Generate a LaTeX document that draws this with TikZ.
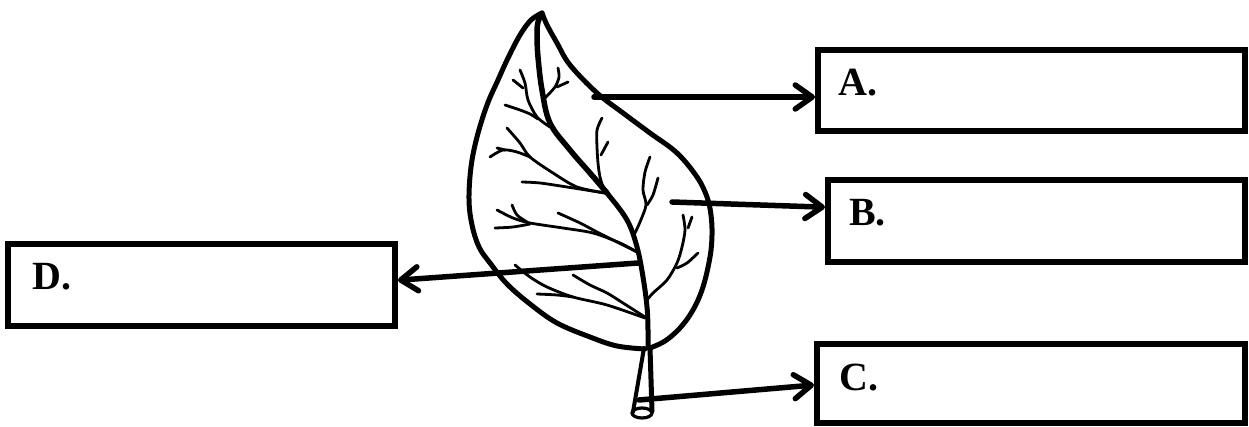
\documentclass[tikz,border=0pt]{standalone}
\usepackage{fontspec}
\setmainfont{Liberation Serif}
\usetikzlibrary{arrows.meta}
\begin{document}
\begin{tikzpicture}[x=1pt,y=-1pt,
  box/.style={draw,line width=6pt,rectangle,inner sep=0pt},
  lab/.style={font=\fontsize{40}{44}\selectfont\bfseries,anchor=base west,inner sep=0pt},
  leafline/.style={line width=5pt,line join=round,line cap=round},
  vein/.style={line width=2.8pt,line cap=round,line join=round},
  arr/.style={line width=5.5pt,line cap=round,-{Straight Barb[length=17pt,width=24pt,round]}}]
\useasboundingbox (0,0) rectangle (1249,427);
% boxes
\node[box,minimum width=427pt,minimum height=81pt] (boxA) at (1031.5,90.5) {};
\node[box,minimum width=417pt,minimum height=82pt] (boxB) at (1036.5,221) {};
\node[box,minimum width=428pt,minimum height=79pt] (boxC) at (1031,383.5) {};
\node[box,minimum width=387pt,minimum height=82pt] (boxD) at (201.5,285) {};
\node[lab] (labA) at (838,96) {A.};
\node[lab] (labB) at (849,226) {B.};
\node[lab] (labC) at (839,390) {C.};
\node[lab] (labD) at (32,290) {D.};
% leaf outline
\draw[leafline] plot[smooth,tension=0.6] coordinates {(542,13) (531,20) (520,35) (508,58) (498,80) (487,105) (477,137) (471,167) (469,200) (472,225) (479,247) (490,263) (507,284) (530,304) (557,323) (590,337) (617,346) (645,349)};
\draw[leafline] plot[smooth,tension=0.6] coordinates {(542,13) (547,25) (557,43) (570,65) (597,93) (623,113) (650,133) (677,153) (697,177) (707,197) (711,215) (712,235) (710,257) (703,287) (693,310) (680,328) (665,341) (650,348)};
% midrib
\draw[leafline,line width=5.5pt] plot[smooth,tension=0.6] coordinates {(542,14) (538,22) (537,35) (538,57) (542,90) (550,123) (570,150) (590,173) (607,193)};
\draw[leafline] plot[smooth,tension=0.6] coordinates {(590,173) (607,193) (627,220) (637,247) (643,277) (647,307) (648,330) (648,348)};
% petiole
\draw[leafline,line width=4pt] (644,348) -- (633,412);
\draw[leafline] (650,348) -- (652,411);
\draw[line width=3.2pt] (642,413) ellipse [x radius=10pt,y radius=5pt];
% veins
\draw[vein] plot[smooth] coordinates {(520,70) (525,83) (528,100) (537,117) (550,127)};
\draw[vein] plot[smooth] coordinates {(513,80) (523,88)};
\draw[vein] plot[smooth] coordinates {(505,105) (520,110) (530,114) (538,119)};
\draw[vein] plot[smooth] coordinates {(558,68) (559,77) (555,87) (545,98)};
\draw[vein] plot[smooth] coordinates {(568,82) (557,87)};
\draw[vein] plot[smooth] coordinates {(507,128) (520,143) (530,157) (553,173) (577,187) (605,193)};
\draw[vein] plot[smooth] coordinates {(490,157) (503,150) (517,152) (530,157)};
\draw[vein] plot[smooth] coordinates {(497,148) (505,150)};
\draw[vein] plot[smooth] coordinates {(522,182) (540,183) (567,187) (605,193)};
\draw[vein] plot[smooth] coordinates {(602,118) (597,130) (597,147) (598,163) (600,177) (604,190)};
\draw[vein] plot[smooth] coordinates {(608,142) (601,155)};
\draw[vein] plot[smooth] coordinates {(497,210) (513,218) (530,223) (563,228) (593,233) (620,243) (637,252)};
\draw[vein] plot[smooth] coordinates {(512,205) (517,215) (527,222)};
\draw[vein] plot[smooth] coordinates {(495,228) (513,227) (530,224)};
\draw[vein] plot[smooth] coordinates {(558,213) (580,223) (597,232) (613,240) (637,252)};
\draw[vein] plot[smooth] coordinates {(515,265) (530,277) (547,287) (573,297) (607,305) (645,318)};
\draw[vein] plot[smooth] coordinates {(537,294) (557,295) (573,297)};
\draw[vein] plot[smooth] coordinates {(573,275) (590,285) (607,293) (623,303) (645,317)};
\draw[vein] plot[smooth] coordinates {(650,157) (645,172) (643,190) (646,205) (640,222) (635,233)};
\draw[vein] plot[smooth] coordinates {(658,178) (653,195) (647,205)};
\draw[vein] plot[smooth] coordinates {(683,215) (685,230) (682,247) (677,263) (667,280) (653,293) (647,300)};
\draw[vein] plot[smooth] coordinates {(692,217) (688,228)};
\draw[vein] plot[smooth] coordinates {(698,253) (687,263) (677,268)};
% arrow start points
\coordinate (pA) at (594,97);
\coordinate (pB) at (672,202);
\coordinate (pC) at (639,400);
\coordinate (pD) at (638,263);
% connectors
\draw[arr] (pA) -- (boxA.west |- pA);
\draw[arr] (pB) -- ([yshift=13.8pt]boxB.west);
\draw[arr] (pC) -- ([yshift=-1.5pt]boxC.west);
\draw[arr] (pD) -- ([yshift=4.8pt]boxD.east);
\end{tikzpicture}
\end{document}
